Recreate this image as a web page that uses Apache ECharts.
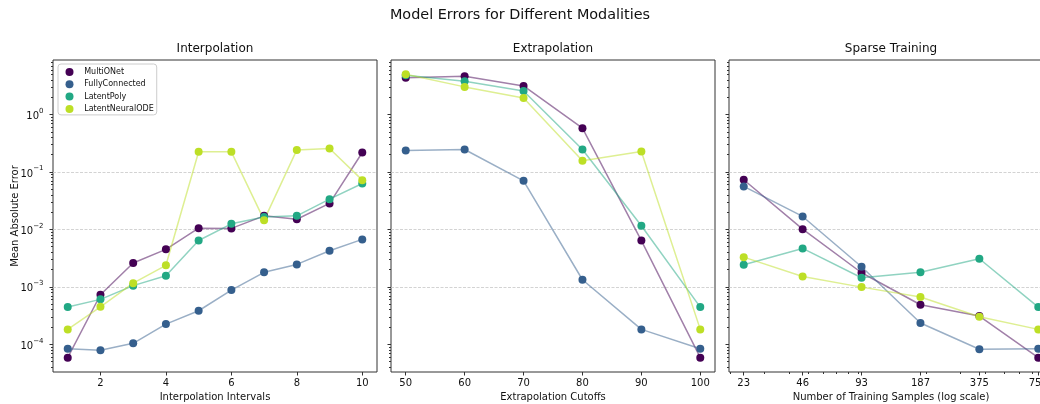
<!DOCTYPE html>
<html>
<head>
<meta charset="utf-8">
<script src="https://cdn.jsdelivr.net/npm/echarts@6/dist/echarts.min.js"></script>
<style>
html, body { margin: 0; padding: 0; background: #fff; overflow: hidden; }
#chart { width: 1040px; height: 404px; }
</style>
</head>
<body>
<div id="chart"></div>
<script>
// models and colours (viridis 0, .3, .6, .9)
const models = ['MultiONet', 'FullyConnected', 'LatentPoly', 'LatentNeuralODE'];
const modelColors = ['#440154', '#355f8d', '#22a884', '#bddf26'];

// Interpolation
const interpIntervals = [1, 2, 3, 4, 5, 6, 7, 8, 9, 10];
const interpMultiONet = [5.85e-5, 7.3e-4, 2.6e-3, 4.5e-3, 1.05e-2, 1.04e-2, 1.72e-2, 1.5e-2, 2.83e-2, 0.218];
const interpFullyConnected = [8.4e-5, 7.9e-5, 1.04e-4, 2.25e-4, 3.84e-4, 8.8e-4, 1.79e-3, 2.46e-3, 4.25e-3, 6.7e-3];
const interpLatentPoly = [4.45e-4, 6.06e-4, 1.05e-3, 1.56e-3, 6.4e-3, 1.25e-2, 1.65e-2, 1.72e-2, 3.36e-2, 6.3e-2];
const interpLatentNeuralODE = [1.82e-4, 4.5e-4, 1.16e-3, 2.37e-3, 0.224, 0.224, 1.45e-2, 0.242, 0.256, 7.2e-2];

// Extrapolation
const extrapCutoffs = [50, 60, 70, 80, 90, 100];
const extrapMultiONet = [4.35, 4.63, 3.14, 0.578, 6.4e-3, 5.85e-5];
const extrapFullyConnected = [0.237, 0.246, 0.07, 1.33e-3, 1.82e-4, 8.4e-5];
const extrapLatentPoly = [4.82, 3.79, 2.57, 0.246, 1.16e-2, 4.45e-4];
const extrapLatentNeuralODE = [5.02, 3.02, 1.94, 0.156, 0.227, 1.82e-4];

// Sparse training
const sparseSamples = [23.4375, 46.875, 93.75, 187.5, 375, 750];
const sparseLabels = ['23', '46', '93', '187', '375', '750'];
const sparseMultiONet = [0.073, 1.01e-2, 1.76e-3, 4.89e-4, 3.1e-4, 5.85e-5];
const sparseFullyConnected = [0.056, 1.68e-2, 2.24e-3, 2.35e-4, 8.2e-5, 8.4e-5];
const sparseLatentPoly = [2.42e-3, 4.67e-3, 1.44e-3, 1.79e-3, 3.08e-3, 4.45e-4];
const sparseLatentNeuralODE = [3.29e-3, 1.52e-3, 9.9e-4, 6.65e-4, 3.02e-4, 1.82e-4];
const sparseMinorTicks = [20, 30, 40, 50, 60, 70, 80, 90, 200, 300, 400, 500, 600, 700, 800];

// axis limits and ticks
const yMin = 3.3e-5, yMax = 8.87;
const yMajorExp = [-4, -3, -2, -1, 0];
const interpTicks = [2, 4, 6, 8, 10];
const extrapTicks = [50, 60, 70, 80, 90, 100];
const sparseMin = 19.71, sparseMax = 891.9;

const yMinorExp = [];
for (let d = -5; d <= 0; d++) {
  for (let s = 2; s <= 9; s++) yMinorExp.push(d + Math.log10(s));
}

const FONT = 'DejaVu Sans';
const TXT = '#111';
const SPINE = '#333';

const gridBox = [
  { left: 53, top: 60, width: 324, height: 312 },
  { left: 391, top: 60, width: 324, height: 312 },
  { left: 729, top: 60, width: 324, height: 312 }
];

const panels = [
  { x: interpIntervals, ys: [interpMultiONet, interpFullyConnected, interpLatentPoly, interpLatentNeuralODE], xAxisIndex: 0 },
  { x: extrapCutoffs, ys: [extrapMultiONet, extrapFullyConnected, extrapLatentPoly, extrapLatentNeuralODE], xAxisIndex: 1 },
  { x: sparseSamples, ys: [sparseMultiONet, sparseFullyConnected, sparseLatentPoly, sparseLatentNeuralODE], xAxisIndex: 2 }
];

const tickLabel = { fontSize: 10, color: TXT, fontFamily: FONT };
const axisName = { fontSize: 10, color: TXT, fontFamily: FONT };
const noLine = { show: false, onZero: false };

const xAxes = [
  {
    gridIndex: 0, type: 'value', position: 'bottom', min: 0.55, max: 10.45,
    name: 'Interpolation Intervals', nameLocation: 'middle', nameGap: 20, nameTextStyle: axisName,
    axisLine: noLine, splitLine: { show: false },
    axisTick: { customValues: interpTicks, length: 3.5, lineStyle: { color: SPINE } },
    axisLabel: Object.assign({ customValues: interpTicks, margin: 6 }, tickLabel)
  },
  {
    gridIndex: 1, type: 'value', position: 'bottom', min: 47.5, max: 102.5,
    name: 'Extrapolation Cutoffs', nameLocation: 'middle', nameGap: 20, nameTextStyle: axisName,
    axisLine: noLine, splitLine: { show: false },
    axisTick: { customValues: extrapTicks, length: 3.5, lineStyle: { color: SPINE } },
    axisLabel: Object.assign({ customValues: extrapTicks, margin: 6 }, tickLabel)
  },
  { gridIndex: 2, type: 'log', position: 'bottom', min: sparseMin, max: sparseMax, show: false, axisLine: noLine },
  {
    gridIndex: 2, type: 'value', position: 'bottom',
    min: Math.log10(sparseMin), max: Math.log10(sparseMax),
    name: 'Number of Training Samples (log scale)', nameLocation: 'middle', nameGap: 20, nameTextStyle: axisName,
    axisLine: noLine, splitLine: { show: false },
    axisTick: { customValues: sparseSamples.map(Math.log10), length: 3.5, lineStyle: { color: SPINE } },
    axisLabel: Object.assign({
      customValues: sparseSamples.map(Math.log10), margin: 6,
      formatter: v => {
        let best = 0;
        sparseSamples.forEach((s, i) => { if (Math.abs(Math.log10(s) - v) < Math.abs(Math.log10(sparseSamples[best]) - v)) best = i; });
        return sparseLabels[best];
      }
    }, tickLabel)
  },
  {
    gridIndex: 2, type: 'value', position: 'bottom',
    min: Math.log10(sparseMin), max: Math.log10(sparseMax),
    axisLine: noLine, splitLine: { show: false }, axisLabel: { show: false },
    axisTick: { customValues: sparseMinorTicks.map(Math.log10), length: 2, lineStyle: { color: SPINE } }
  }
];

const yAxes = [];
gridBox.forEach((g, gi) => {
  yAxes.push({ gridIndex: gi, type: 'log', logBase: 10, position: 'left', min: yMin, max: yMax, show: false, axisLine: noLine });
  yAxes.push({
    gridIndex: gi, type: 'value', position: 'left',
    min: Math.log10(yMin), max: Math.log10(yMax),
    name: gi === 0 ? 'Mean Absolute Error' : '', nameLocation: 'middle', nameGap: 33, nameMoveOverlap: false,
    nameTextStyle: axisName,
    axisLine: noLine,
    axisTick: { customValues: yMajorExp, length: 3.5, lineStyle: { color: SPINE } },
    splitLine: { show: true, showMinLine: false, showMaxLine: false, lineStyle: { color: '#c8c8c8', width: 0.8, type: [3, 1.5] } },
    axisLabel: {
      show: gi === 0, customValues: yMajorExp, margin: 9.5, color: TXT, fontFamily: FONT,
      formatter: v => '{b|10}{s|' + (Math.round(v) < 0 ? '\u2212' : '') + Math.abs(Math.round(v)) + '}',
      rich: {
        b: { fontSize: 10, fontFamily: FONT, color: TXT, lineHeight: 14, verticalAlign: 'bottom' },
        s: { fontSize: 7, fontFamily: FONT, color: TXT, lineHeight: 6, verticalAlign: 'top' }
      }
    }
  });
  yAxes.push({
    gridIndex: gi, type: 'value', position: 'left',
    min: Math.log10(yMin), max: Math.log10(yMax),
    axisLine: noLine, splitLine: { show: false }, axisLabel: { show: false },
    axisTick: { customValues: yMinorExp, length: 2, lineStyle: { color: SPINE } }
  });
});

const series = [];
panels.forEach((p, pi) => {
  p.ys.forEach((ys, mi) => {
    series.push({
      type: 'line',
      name: models[mi],
      xAxisIndex: p.xAxisIndex,
      yAxisIndex: pi * 3,
      data: p.x.map((x, i) => [x, ys[i]]),
      symbol: 'circle',
      symbolSize: 8,
      showSymbol: true,
      lineStyle: { width: 1.5, color: modelColors[mi], opacity: 0.5 },
      itemStyle: { color: modelColors[mi] },
      emphasis: { disabled: true }
    });
  });
});

const chart = echarts.init(document.getElementById('chart'));
chart.setOption({
  animation: false,
  textStyle: { fontFamily: FONT },
  title: [
    { text: 'Model Errors for Different Modalities', left: 520, top: 8, textAlign: 'center', padding: 0,
      textStyle: { fontSize: 14.4, fontWeight: 'normal', color: TXT, fontFamily: FONT } },
    { text: 'Interpolation', left: 215, top: 43, textAlign: 'center', padding: 0,
      textStyle: { fontSize: 12, fontWeight: 'normal', color: TXT, fontFamily: FONT } },
    { text: 'Extrapolation', left: 553, top: 43, textAlign: 'center', padding: 0,
      textStyle: { fontSize: 12, fontWeight: 'normal', color: TXT, fontFamily: FONT } },
    { text: 'Sparse Training', left: 891, top: 43, textAlign: 'center', padding: 0,
      textStyle: { fontSize: 12, fontWeight: 'normal', color: TXT, fontFamily: FONT } }
  ],
  legend: {
    data: models,
    orient: 'vertical',
    left: 58, top: 64,
    icon: 'circle',
    itemWidth: 19.4, itemHeight: 8, itemGap: 4.3,
    padding: [4, 3, 2, 7.5],
    borderColor: '#cccccc', borderWidth: 1, borderRadius: 3,
    backgroundColor: 'rgba(255,255,255,0.8)',
    textStyle: { fontSize: 8, color: TXT, fontFamily: FONT },
    selectedMode: false
  },
  grid: gridBox.map(g => Object.assign({ show: true, borderColor: SPINE, borderWidth: 1, backgroundColor: 'transparent', outerBoundsMode: 'none' }, g)),
  xAxis: xAxes,
  yAxis: yAxes,
  series: series
});
</script>
</body>
</html>
